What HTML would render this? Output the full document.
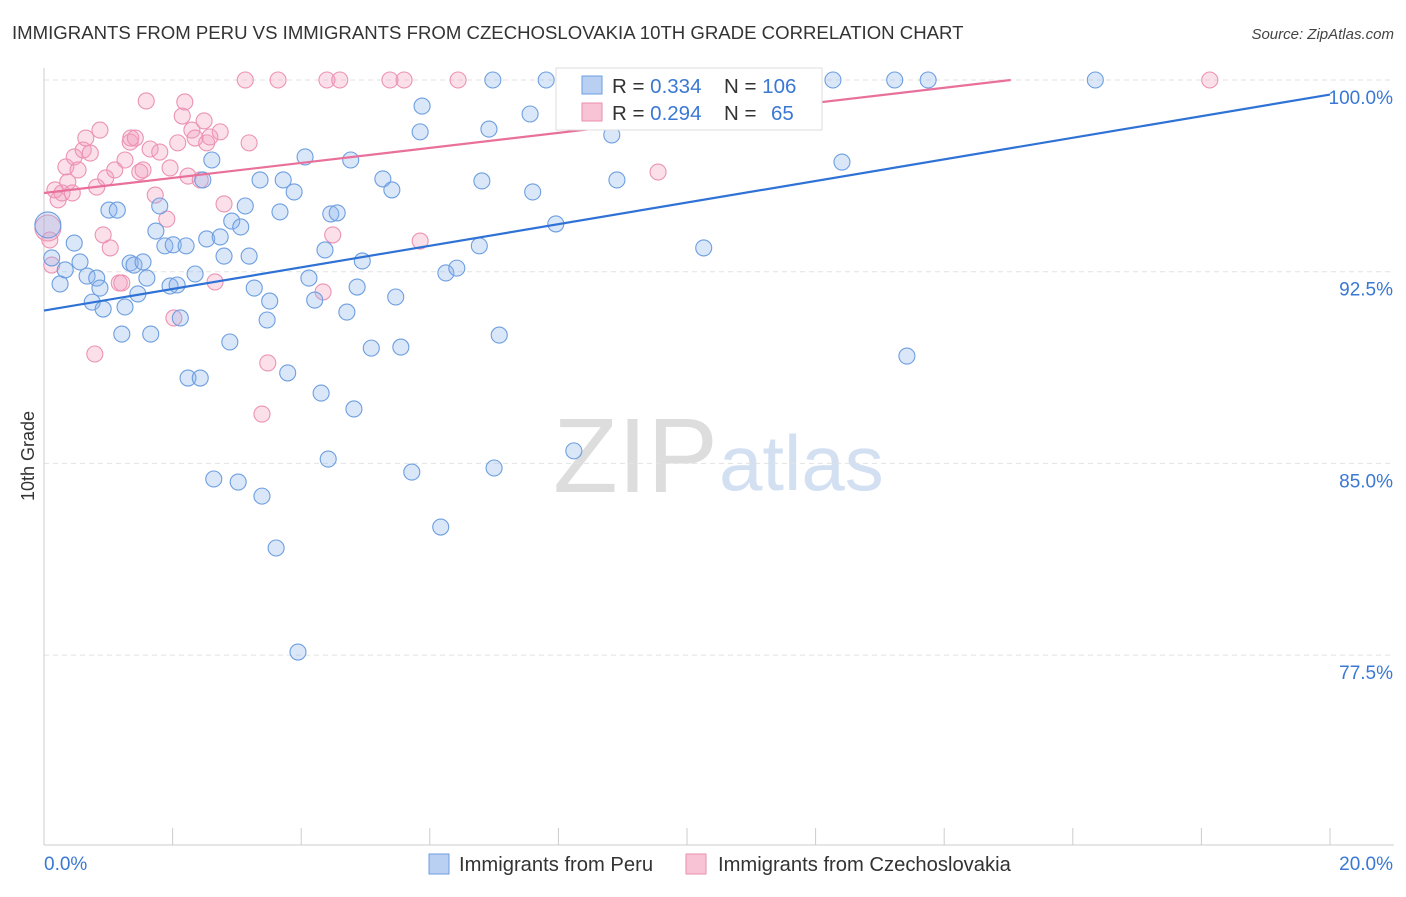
<!DOCTYPE html>
<html><head><meta charset="utf-8">
<style>
body{margin:0;background:#fff;font-family:"Liberation Sans",sans-serif;}
svg text{font-family:"Liberation Sans",sans-serif;}
</style></head>
<body>
<svg id="chart" width="1406" height="892" viewBox="0 0 1406 892" xmlns="http://www.w3.org/2000/svg">
<text x="12" y="39" font-size="18.6" fill="#333">IMMIGRANTS FROM PERU VS IMMIGRANTS FROM CZECHOSLOVAKIA 10TH GRADE CORRELATION CHART</text>
<text x="1394" y="39" font-size="15" fill="#444" text-anchor="end" font-style="italic">Source: ZipAtlas.com</text>
<g>
<text x="553" y="492" font-size="106" fill="#ddd" font-family="Liberation Serif, serif">ZIP</text>
<text x="719" y="490" font-size="78" fill="#d3e0f2">atlas</text>
</g>
<g id="grid"></g>
<g id="axes"></g>
<g id="pts"></g>
<g id="lines"></g>
<g>
<rect x="556" y="68" width="266" height="62" fill="#fff" stroke="#ddd"/>
<rect x="582" y="76" width="20" height="18" fill="#b9d0f2" stroke="#6d9ee0"/>
<text x="612" y="93" font-size="20.5" fill="#333">R = <tspan fill="#3a78d4">0.334</tspan></text>
<text x="724" y="93" font-size="20.5" fill="#333">N = <tspan fill="#3a78d4">106</tspan></text>
<rect x="582" y="103" width="20" height="18" fill="#f8c3d5" stroke="#ea8fb0"/>
<text x="612" y="120" font-size="20.5" fill="#333">R = <tspan fill="#3a78d4">0.294</tspan></text>
<text x="724" y="120" font-size="20.5" fill="#333">N = <tspan fill="#3a78d4" x="771">65</tspan></text>
</g>
<g>
<rect x="429" y="854" width="20" height="20" fill="#b9d0f2" stroke="#6d9ee0"/>
<text x="459" y="871" font-size="20.2" fill="#333">Immigrants from Peru</text>
<rect x="686" y="854" width="20" height="20" fill="#f8c3d5" stroke="#ea8fb0"/>
<text x="718" y="871" font-size="20.2" fill="#333">Immigrants from Czechoslovakia</text>
</g>
</svg>
<script>
const blueX=[.06,.12,.25,.33,.47,.56,.67,.75,.82,.87,.92,1.01,1.14,1.21,1.26,1.34,1.40,1.46,1.54,1.60,1.66,1.74,1.80,1.88,1.96,2.01,2.07,2.12,2.21,2.24,2.35,2.43,2.47,2.53,2.61,2.64,2.74,2.80,2.89,2.92,3.02,3.06,3.13,3.19,3.27,3.36,3.39,3.47,3.51,3.61,3.67,3.72,3.79,3.89,3.95,4.06,4.12,4.21,4.31,4.37,4.42,4.46,4.56,4.71,4.77,4.82,4.87,4.95,5.09,5.27,5.41,5.47,5.55,5.72,5.85,5.88,6.17,6.25,6.42,6.77,6.81,6.92,6.98,7.00,7.08,7.56,7.60,7.81,7.96,8.15,8.24,8.83,8.91,9.55,10.26,10.92,12.27,12.41,13.23,13.42,13.75,16.35];
const blueY=[94.33,93.04,92.02,92.57,93.62,92.88,92.33,91.31,92.25,91.86,91.04,94.91,94.91,90.06,91.12,92.84,92.76,91.63,92.88,92.25,90.06,94.09,95.07,93.51,91.94,93.55,91.98,90.69,93.51,88.34,92.41,88.34,96.09,93.78,96.87,84.39,93.86,93.11,89.75,94.48,84.27,94.25,95.07,93.11,91.86,96.09,83.72,90.61,91.35,81.69,94.84,96.09,88.54,95.62,77.62,96.99,92.25,91.39,87.75,93.35,85.17,94.76,94.80,90.92,96.87,87.13,91.90,92.92,89.51,96.13,95.70,91.51,89.55,84.66,97.97,98.98,82.51,92.45,92.64,93.51,96.05,98.08,100,84.82,90.02,98.67,95.62,100,94.37,99.26,85.49,97.85,96.09,100,93.43,98.71,100,96.79,100,89.20,100,100];
const pinkX=[.06,.09,.12,.17,.22,.28,.34,.37,.44,.47,.53,.61,.65,.72,.79,.82,.87,.92,.96,1.03,1.10,1.17,1.21,1.26,1.34,1.35,1.42,1.49,1.54,1.59,1.65,1.73,1.80,1.91,1.96,2.02,2.08,2.15,2.19,2.24,2.30,2.35,2.43,2.49,2.53,2.58,2.66,2.74,2.80,3.13,3.19,3.39,3.48,3.64,4.34,4.40,4.49,4.60,5.38,5.60,5.85,6.44,8.16,9.55,18.13];
const pinkY=[94.21,93.74,92.76,95.70,95.31,95.58,96.60,96.01,95.58,96.99,96.48,97.26,97.73,97.14,89.28,95.81,98.04,93.94,96.17,93.43,96.48,92.06,92.06,96.87,97.57,97.73,97.73,96.40,96.48,99.18,97.30,95.50,97.18,94.56,96.56,90.69,97.54,98.59,99.14,96.24,98.04,97.73,96.09,98.40,97.54,97.77,92.10,97.97,95.15,100,97.54,86.93,88.93,100,91.71,100,93.94,100,100,100,93.70,100,100,96.40,100];
const blueLine=[90.98,99.43];   // y at x=0 and x=20
const pinkLine=[95.58,101.46];
const yTicks=[100,92.5,85,77.5];
const yTickLabels=["100.0%","92.5%","85.0%","77.5%"];

const NS="http://www.w3.org/2000/svg";
const X=v=>44+(v/20)*1286;
const Y=v=>80+(100-v)*25.56;
function mk(tag,attrs,parent){const e=document.createElementNS(NS,tag);for(const k in attrs)e.setAttribute(k,attrs[k]);parent.appendChild(e);return e;}
const grid=document.getElementById('grid'),axes=document.getElementById('axes');
yTicks.forEach((t,i)=>{
  const l=mk('line',{x1:44,x2:1394,y1:Y(t),y2:Y(t),stroke:'#e2e2e2','stroke-dasharray':'5,4'},grid);
  
  
  const tx=mk('text',{x:1393,y:Y(t)+24,'font-size':19,fill:'#3a78d4','text-anchor':'end'},axes);
  tx.textContent=yTickLabels[i];
  
  
});
mk('line',{x1:44,x2:44,y1:68,y2:845,stroke:'#ccc'},axes);
mk('line',{x1:44,x2:1394,y1:845,y2:845,stroke:'#ccc'},axes);
for(let i=1;i<=10;i++){const t=mk('line',{x1:X(i*2),x2:X(i*2),y1:828,y2:845,stroke:'#ccc'},axes);
  
  }
let a=mk('text',{x:44,y:870,'font-size':19,fill:'#3a78d4'},axes);a.textContent='0.0%';


a=mk('text',{x:1393,y:870,'font-size':19,fill:'#3a78d4','text-anchor':'end'},axes);a.textContent='20.0%';


a=mk('text',{x:34,y:456,'font-size':18,fill:'#333','text-anchor':'middle',transform:'rotate(-90 34 456)'},axes);a.textContent='10th Grade';



const pts=document.getElementById('pts');


function drawPts(xs,ys,fill,stroke,name){
  xs.forEach((x,i)=>{
    const r=i===0?13:8;
    const c=mk('circle',{cx:X(x),cy:Y(ys[i]),r:r,fill:fill,stroke:stroke,'stroke-width':1.1},pts);
    
    
  });
}
drawPts(pinkX,pinkY,'rgba(244,160,190,0.32)','#ec92b3','point-czechoslovakia');
drawPts(blueX,blueY,'rgba(140,180,235,0.32)','#6d9ee0','point-peru');

const lines=document.getElementById('lines');
let bl=mk('line',{x1:X(0),y1:Y(blueLine[0]),x2:X(20),y2:Y(blueLine[1]),stroke:'#2f72d6','stroke-width':2.2},lines);


const xEnd=(100-pinkLine[0])/((pinkLine[1]-pinkLine[0])/20);
let pl=mk('line',{x1:X(0),y1:Y(pinkLine[0]),x2:X(xEnd),y2:Y(100),stroke:'#e8709a','stroke-width':2.2},lines);


</script>
</body></html>
